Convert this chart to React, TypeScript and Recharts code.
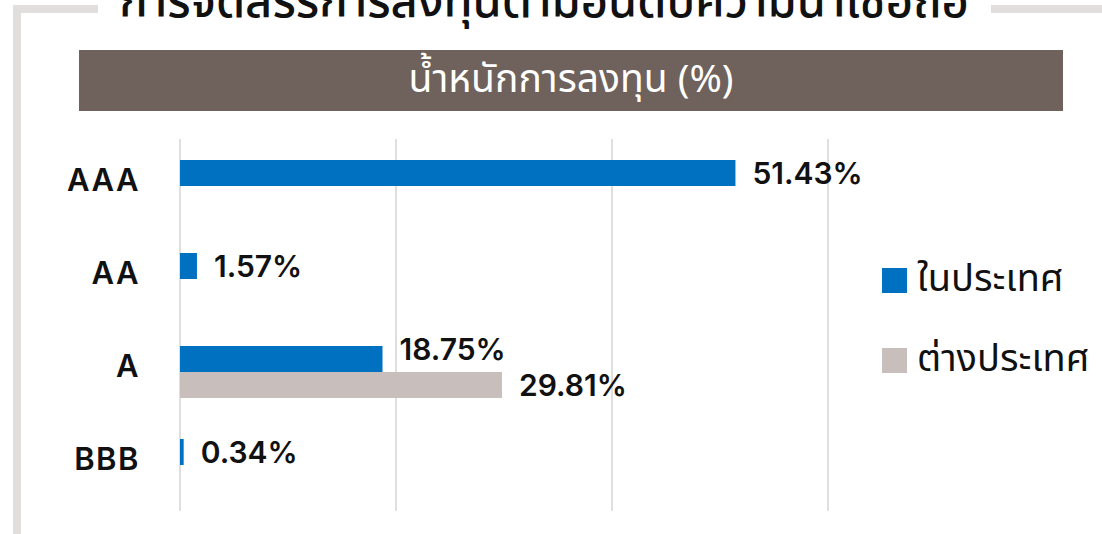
import { BarChart, Bar, XAxis, YAxis, CartesianGrid, Legend } from 'recharts';

const ratings = ['AAA', 'AA', 'A', 'BBB'];
const domestic: (number | null)[] = [51.43, 1.57, 18.75, 0.34];
const foreign: (number | null)[] = [null, null, 29.81, null];
const xTicks = [0, 20, 40, 60];

const TITLE = 'การจัดสรรการลงทุนตามอันดับความน่าเชื่อถือ';
const SUBTITLE = 'น้ำหนักการลงทุน (%)';

const SERIES = [
  { key: 'domestic', label: 'ในประเทศ', color: '#0070C0' },
  { key: 'foreign', label: 'ต่างประเทศ', color: '#C8BEBB' },
] as const;

const data = ratings.map((rating, i) => ({
  rating,
  domestic: domestic[i],
  foreign: foreign[i],
}));

const LATIN = 'Inter, "Noto Sans", sans-serif';
const THAI = '"Noto Sans Thai", "Noto Sans", sans-serif';
const FRAME = '#E2DEDD';

// when both series share a category, push the labels apart a little
const makeValueLabel = (series: 'domestic' | 'foreign') => (props: any) => {
  const { x, y, width, height, value, index } = props;
  if (value == null) return null;
  const both = domestic[index] != null && foreign[index] != null;
  const dy = both ? (series === 'domestic' ? -10 : 6) : 0;
  return (
    <text
      x={x + width + 17}
      y={y + height / 2 + dy}
      dominantBaseline="central"
      fontFamily={LATIN}
      fontWeight={600}
      fontSize={30}
      fill="#111"
    >
      {`${Number(value).toFixed(2)}%`}
    </text>
  );
};

const RatingTick = ({ x, y, payload }: any) => (
  <text
    x={x}
    y={y - 6}
    textAnchor="end"
    dominantBaseline="central"
    fontFamily={LATIN}
    fontWeight={600}
    fontSize={31}
    letterSpacing={1.5}
    fill="#111"
  >
    {payload.value}
  </text>
);

const renderLegend = () => (
  <div style={{ display: 'flex', flexDirection: 'column' }}>
    {SERIES.map((s) => (
      <div key={s.key} style={{ display: 'flex', alignItems: 'center', height: 80 }}>
        <span style={{ width: 25, height: 25, background: s.color, marginRight: 10, flexShrink: 0 }} />
        <span style={{ fontFamily: THAI, fontSize: 38, color: '#111', lineHeight: 1 }}>{s.label}</span>
      </div>
    ))}
  </div>
);

export default function App() {
  return (
    <div style={{ position: 'absolute', left: 0, top: 0, width: 1102, height: 534, background: '#fff', overflow: 'hidden' }}>
      <BarChart
        width={1102}
        height={534}
        data={data}
        layout="vertical"
        margin={{ top: 139, right: 274, bottom: 23, left: 0 }}
        barSize={26}
        barGap={0}
      >
        <CartesianGrid horizontal={false} stroke="#E3DEDE" strokeWidth={2} />
        <XAxis type="number" domain={[0, 60]} ticks={xTicks} hide />
        <YAxis
          type="category"
          dataKey="rating"
          width={180}
          axisLine={false}
          tickLine={false}
          tickSize={0}
          tickMargin={40}
          tick={<RatingTick />}
        />
        <Legend
          layout="horizontal"
          verticalAlign="middle"
          align="center"
          content={renderLegend}
          wrapperStyle={{ left: 882, top: 240, width: 220 }}
        />
        {SERIES.map((s) => (
          <Bar
            key={s.key}
            dataKey={s.key}
            name={s.label}
            fill={s.color}
            isAnimationActive={false}
            label={makeValueLabel(s.key)}
          />
        ))}
      </BarChart>

      <svg
        width={1102}
        height={534}
        style={{ position: 'absolute', left: 0, top: 0, pointerEvents: 'none' }}
      >
        <rect x={13} y={5} width={8} height={529} fill={FRAME} />
        <rect x={13} y={5} width={85} height={8} fill={FRAME} />
        <rect x={991} y={5} width={111} height={8} fill={FRAME} />
        <text x={544} y={17} textAnchor="middle" fontFamily={THAI} fontWeight={500} fontSize={47} fill="#111">
          {TITLE}
        </text>
        <rect x={79} y={50} width={984} height={61} fill="#6F615C" />
        <text x={571} y={92} textAnchor="middle" fontFamily={THAI} fontSize={39} fill="#fff">
          {SUBTITLE}
        </text>
      </svg>
    </div>
  );
}
